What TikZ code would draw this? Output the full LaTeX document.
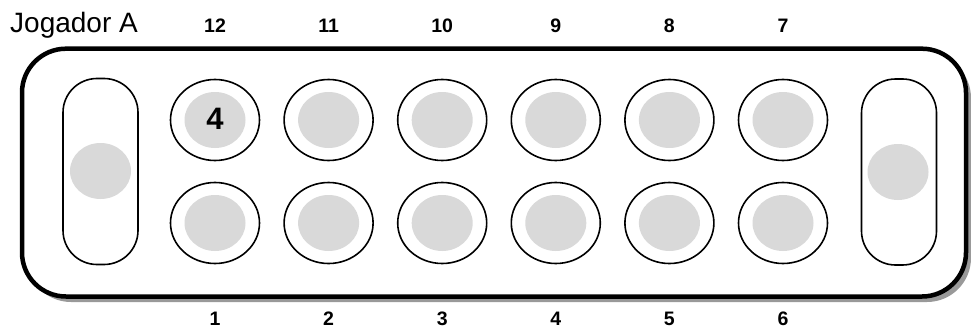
\documentclass[tikz,border=0pt]{standalone}
\usepackage{fontspec}
\setmainfont{Liberation Sans}
\usetikzlibrary{shapes.geometric}
\definecolor{pitgray}{HTML}{D9D9D9}
\definecolor{shadowgray}{HTML}{999999}
\tikzset{
  pit/.style={ellipse, draw, line width=1.6pt, fill=white, minimum width=89pt, minimum height=81pt, inner sep=0pt},
  seed/.style={ellipse, fill=pitgray, minimum width=61pt, minimum height=56pt, inner sep=0pt},
  store/.style={draw, line width=1.6pt, fill=white, rounded corners=34pt, minimum width=75pt, minimum height=186pt, inner sep=0pt},
  num/.style={font=\fontsize{19.5}{20}\selectfont\bfseries, inner sep=0pt, anchor=base},
}
\begin{document}
\begin{tikzpicture}[x=1pt,y=-1pt]
\useasboundingbox (0,0) rectangle (971,329);
% board shadow and board
\fill[shadowgray, rounded corners=44pt] (27,54) rectangle (971,302);
\draw[line width=4.5pt, fill=white, rounded corners=44pt] (22,48.7) rectangle (966,296.5);
% stores
\node[store] (storeL) at (100.5,171.5) {};
\node[store] (storeR) at (899,172) {};
\node[seed] (seedL) at (100.5,171) {};
\node[seed] (seedR) at (898,172) {};
% pits
\foreach \i/\top/\bot in {0/12/1,1/11/2,2/10/3,3/9/4,4/8/5,5/7/6} {
  \pgfmathsetmacro{\cx}{215+113.6*\i}
  \node[pit] (p\top) at (\cx,120) {};
  \node[pit] (p\bot) at (\cx,223) {};
  \node[num] (t\top) at (\cx,33) {\top};
  \node[num] (b\bot) at (\cx,325.5) {\bot};
}
\foreach \n in {1,...,11} {
  \node[seed] (s\n) at (p\n) {};
}
\node[seed] (s12) at (p12) {};
\node[font=\fontsize{31}{31}\selectfont\bfseries, anchor=base, inner sep=0pt] (seedcount) at (215,129) {4};
\node[font=\fontsize{28}{28}\selectfont, anchor=base west, inner sep=0pt] (player) at (10,33) {Jogador A};
\end{tikzpicture}
\end{document}
